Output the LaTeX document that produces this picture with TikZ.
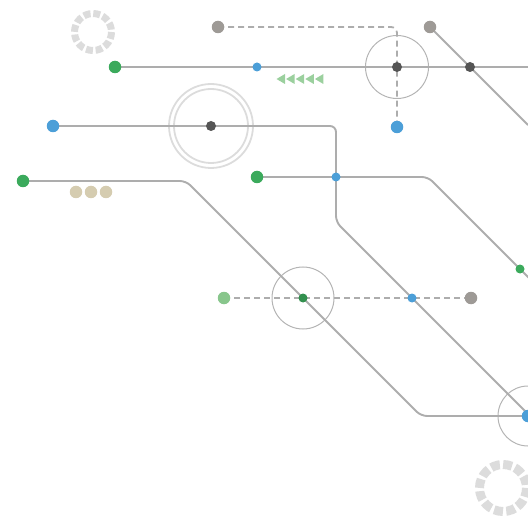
\documentclass[tikz,border=0pt]{standalone}
\usetikzlibrary{calc}
\definecolor{linegray}{HTML}{ADADAD}
\definecolor{ringgray}{HTML}{DCDCDC}
\definecolor{circgray}{HTML}{B4B4B4}
\definecolor{dotdark}{HTML}{555555}
\definecolor{dotgray}{HTML}{9E9A96}
\definecolor{dotgreen}{HTML}{3BAA5C}
\definecolor{dotlgreen}{HTML}{88C68C}
\definecolor{dotblue}{HTML}{4C9FD8}
\definecolor{dottan}{HTML}{D5CCB0}
\definecolor{arrgreen}{HTML}{9BD09E}
\tikzset{
  track/.style={draw=linegray, line width=1.9pt, rounded corners=6pt},
  dashtrack/.style={draw=linegray, line width=1.8pt, dash pattern=on 6pt off 4pt, rounded corners=6pt},
  dotbig/.style={circle, inner sep=0pt, minimum size=12.5pt},
  dotsmall/.style={circle, inner sep=0pt, minimum size=9pt},
  halo/.style={draw=circgray, line width=1pt},
  dhalo/.style={draw=ringgray, line width=1.8pt},
  tri/.style={fill=arrgreen},
}
\begin{document}
\begin{tikzpicture}[x=1pt,y=-1pt]
\useasboundingbox (0,0) rectangle (528,524);
% coordinates
\coordinate (tg) at (218,27);
\coordinate (tc) at (397,27);
\coordinate (tb) at (397,127);
\coordinate (ag) at (115,67);
\coordinate (ab) at (257,67);
\coordinate (ad) at (397,67);
\coordinate (ax) at (470,67);
\coordinate (ae) at (528,67);
\coordinate (dg) at (430,27);
\coordinate (de) at (528,125);
\coordinate (bb) at (53,126);
\coordinate (bd) at (211,126);
\coordinate (bc) at (336,126);
\coordinate (bv) at (336,222);
\coordinate (bx) at (412,298);
\coordinate (be) at (528,414);
\coordinate (cg) at (23,181);
\coordinate (cc) at (186,181);
\coordinate (cx) at (303,298);
\coordinate (cd) at (421,416);
\coordinate (ce) at (528,416);
\coordinate (eg) at (257,177);
\coordinate (ex) at (336,177);
\coordinate (ec) at (428,177);
\coordinate (ed) at (520,269);
\coordinate (ee) at (536,285);
\coordinate (fg) at (224,298);
\coordinate (fd) at (471,298);
% decorative rings
\draw[ringgray, line width=7pt, dash pattern=on 7pt off 2.7pt] (93,32) circle (18.5);
\draw[ringgray, line width=9pt, dash pattern=on 9pt off 3.3pt] (503,488) circle (23.5);
% halos
\draw[halo] (ad) circle (31.5);
\draw[dhalo] (bd) circle (42);
\draw[dhalo] (bd) circle (37);
\draw[halo] (cx) circle (31);
\draw[halo] (ce) circle (30);
% tracks
\draw[dashtrack] (tg) -- (tc) -- (tb);
\draw[track] (ag) -- (ae);
\draw[track] (dg) -- (de);
\draw[track] (bb) -- (bc) -- (bv) -- (be);
\draw[track] (cg) -- (cc) -- (cd) -- (ce);
\draw[track] (eg) -- (ec) -- (ee);
\draw[dashtrack] (fg) -- (fd);
% arrows
\foreach \i in {0,...,4} {
  \fill[tri] ({276.5+\i*9.6},79) -- ({285+\i*9.6},74) -- ({285+\i*9.6},84) -- cycle;
}
% tan dots
\foreach \i/\x in {1/76,2/91,3/106} {
  \node[dotbig, fill=dottan] (t\i) at (\x,192) {};
}
% dots
\node[dotbig, fill=dotgray] (ntg) at (tg) {};
\node[dotbig, fill=dotblue] (ntb) at (tb) {};
\node[dotbig, fill=dotgreen] (nag) at (ag) {};
\node[dotsmall, fill=dotblue] (nab) at (ab) {};
\node[dotsmall, minimum size=10pt, fill=dotdark] (nad) at (ad) {};
\node[dotsmall, minimum size=10pt, fill=dotdark] (nax) at (ax) {};
\node[dotbig, fill=dotgray] (ndg) at (dg) {};
\node[dotbig, fill=dotblue] (nbb) at (bb) {};
\node[dotsmall, minimum size=10pt, fill=dotdark] (nbd) at (bd) {};
\node[dotsmall, fill=dotblue] (nbx) at (bx) {};
\node[dotbig, fill=dotgreen] (ncg) at (cg) {};
\node[dotsmall, fill=dotgreen!85!black] (ncx) at (cx) {};
\node[dotbig, fill=dotblue] (nce) at (ce) {};
\node[dotbig, fill=dotgreen] (neg) at (eg) {};
\node[dotsmall, fill=dotblue] (nex) at (ex) {};
\node[dotsmall, fill=dotgreen] (ned) at (ed) {};
\node[dotbig, fill=dotlgreen] (nfg) at (fg) {};
\node[dotbig, fill=dotgray] (nfd) at (fd) {};
\end{tikzpicture}
\end{document}
